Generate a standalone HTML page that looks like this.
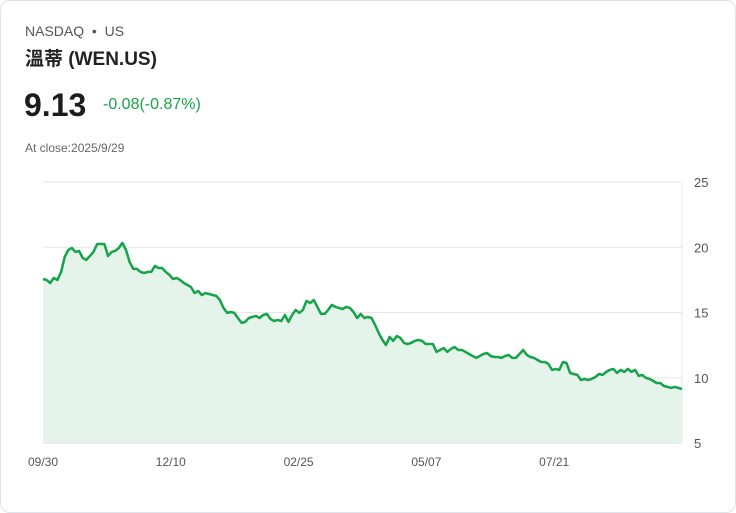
<!DOCTYPE html>
<html><head><meta charset="utf-8"><style>
html,body{margin:0;padding:0;background:#fff;}
body{width:736px;height:513px;position:relative;font-family:"Liberation Sans","Noto Sans CJK SC",sans-serif;overflow:hidden;}
.card{position:absolute;left:0;top:0;width:734px;height:511px;border:1px solid #dfe3ea;border-radius:10px;}
.t{position:absolute;white-space:nowrap;}
</style></head><body>
<div class="card"></div>
<div class="t" style="left:25px;top:23px;font-size:14px;color:#555;">NASDAQ &nbsp;•&nbsp; US</div>
<div class="t" style="left:25px;top:44px;font-size:19px;font-weight:bold;color:#222;">溫蒂 (WEN.US)</div>
<div class="t" style="left:24px;top:87px;font-size:32px;font-weight:bold;color:#1c1c1c;">9.13</div>
<div class="t" style="left:103px;top:96px;font-size:16px;color:#16a34a;">-0.08(-0.87%)</div>
<div class="t" style="left:25px;top:141px;font-size:12px;color:#666;">At close:2025/9/29</div>
<svg id="chart" width="736" height="513" style="position:absolute;left:0;top:0;"></svg>
<script>
const yTicks=[25,20,15,10,5];
const xLabels=["09/30","12/10","02/25","05/07","07/21"];
const xLabelFrac=[0,0.2,0.4,0.6,0.8];
const prices=[17.57,17.49,17.26,17.65,17.49,18.11,19.26,19.79,19.94,19.64,19.72,19.18,19.03,19.33,19.64,20.25,20.25,20.25,19.33,19.64,19.72,19.94,20.33,19.79,18.87,18.34,18.34,18.11,18.03,18.11,18.11,18.57,18.41,18.41,18.11,17.88,17.57,17.65,17.49,17.26,17.11,16.95,16.49,16.65,16.34,16.49,16.42,16.34,16.27,15.96,15.35,14.97,15.04,14.97,14.58,14.20,14.28,14.58,14.66,14.74,14.58,14.81,14.89,14.51,14.35,14.43,14.35,14.81,14.28,14.81,15.20,14.97,15.20,15.89,15.73,15.96,15.43,14.89,14.89,15.20,15.58,15.43,15.35,15.27,15.43,15.35,15.04,14.58,14.89,14.58,14.66,14.58,14.05,13.43,12.90,12.51,13.13,12.82,13.20,13.05,12.67,12.59,12.67,12.82,12.90,12.82,12.59,12.59,12.59,11.98,12.13,12.28,11.98,12.21,12.36,12.13,12.13,11.98,11.82,11.67,11.52,11.67,11.82,11.90,11.67,11.59,11.59,11.52,11.67,11.75,11.52,11.52,11.82,12.13,11.75,11.59,11.52,11.36,11.21,11.21,11.06,10.60,10.68,10.60,11.21,11.13,10.37,10.29,10.22,9.83,9.91,9.83,9.91,10.06,10.29,10.22,10.45,10.60,10.68,10.37,10.60,10.45,10.68,10.45,10.60,10.14,10.22,9.99,9.91,9.76,9.60,9.60,9.37,9.30,9.22,9.30,9.22,9.13];
const NS="http://www.w3.org/2000/svg";
const svg=document.getElementById('chart');
const L=43,R=682,T=182,B=443,ymin=5,ymax=25;
const ys=v=>B-(v-ymin)/(ymax-ymin)*(B-T);
const xs=i=>L+i/(prices.length-1)*(R-L);
function mk(tag,attrs){const e=document.createElementNS(NS,tag);for(const k in attrs)e.setAttribute(k,attrs[k]);svg.appendChild(e);return e;}
yTicks.forEach(v=>{
 const g=mk('line',{x1:L,x2:R,y1:ys(v),y2:ys(v),stroke:v===5?'#d4d4d4':'#e6e6e6','stroke-width':1});
 
 
 const t=mk('text',{x:694,y:ys(v)+5,'font-size':13,fill:'#555','font-family':'Liberation Sans, sans-serif'});
 t.textContent=v;
 
 
});
const ax=mk('line',{x1:R,x2:R,y1:T,y2:B,stroke:'#e6e6e6','stroke-width':1});


xLabels.forEach((s,i)=>{
 const t=mk('text',{x:L+xLabelFrac[i]*(R-L),y:466,'font-size':12,fill:'#555','text-anchor':'middle','font-family':'Liberation Sans, sans-serif'});
 t.textContent=s;
 
 
});
let d=prices.map((v,i)=>(i?'L':'M')+xs(i).toFixed(1)+','+ys(v).toFixed(1)).join('');
const area=mk('path',{d:d+`L${R},${B}L${L},${B}Z`,fill:'#e5f4ea'});


const line=mk('path',{d:d,fill:'none',stroke:'#16a34a','stroke-width':2.5,'stroke-linejoin':'round'});


</script>
</body></html>
